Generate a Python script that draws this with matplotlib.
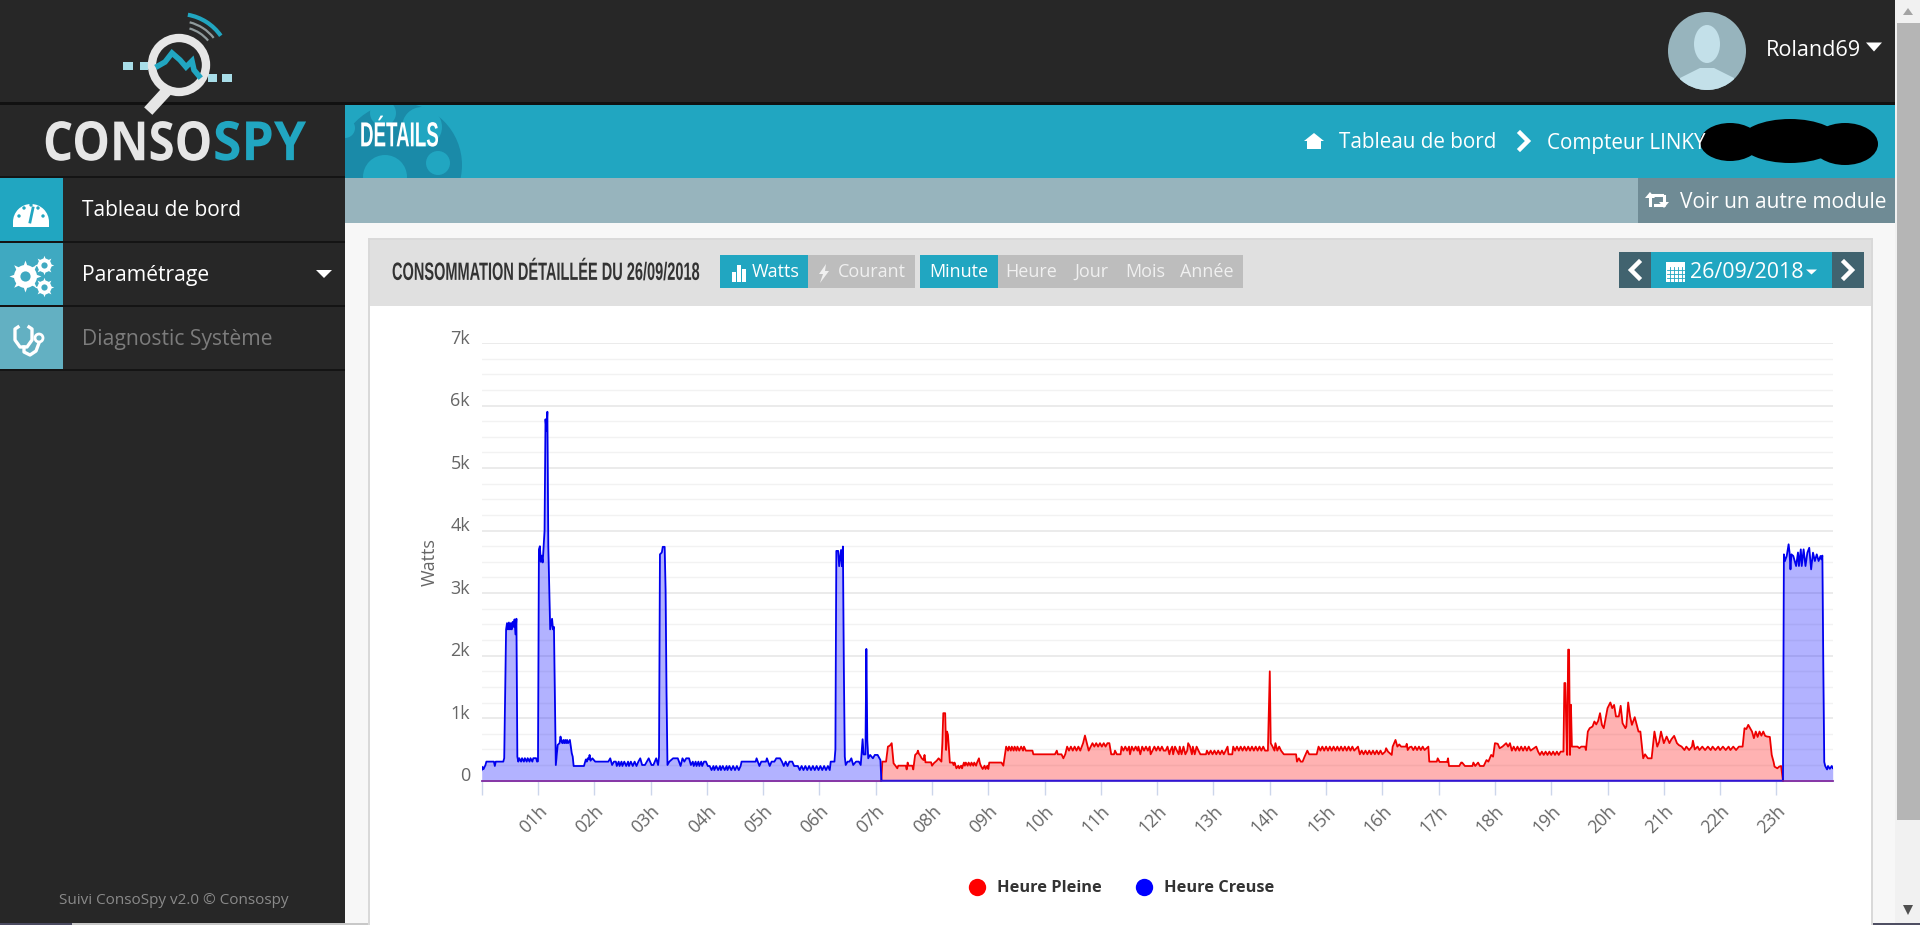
import matplotlib
matplotlib.use('Agg')
from matplotlib import pyplot as plt
from matplotlib.patches import Rectangle, Circle, Ellipse, Polygon, Wedge, Arc
from matplotlib.patheffects import AbstractPathEffect
from matplotlib.transforms import Affine2D, ScaledTranslation
from matplotlib.lines import Line2D

# Watts per minute of the day as (minute, watts)
creuse_matin = [
    (0, 170), (1, 220), (2, 185), (4, 250), (5, 305), (13, 305), (14, 235), (15, 305), (23, 305), (24, 360),
    (26, 2420), (27, 2520), (28, 2420), (29, 2530), (30, 2420), (31, 2520), (32, 2420), (33, 2540), (34, 2460),
    (35, 2580), (36, 2340), (37, 2590), (38, 385), (39, 305), (40, 360), (42, 305), (43, 360), (45, 305),
    (46, 360), (48, 305), (49, 360), (51, 305), (52, 360), (54, 305), (55, 360), (58, 360), (59, 305), (60, 310),
    (61, 3700), (62, 3750), (63, 3500), (64, 3600), (65, 3490), (66, 3750), (67, 4000), (68, 5780), (69, 5600),
    (70, 5900), (71, 3750), (73, 2420), (75, 2590), (76, 2420), (77, 2460), (79, 250), (81, 572), (83, 600),
    (84, 706), (85, 626), (86, 600), (87, 652), (88, 600), (89, 652), (90, 600), (91, 652), (92, 600), (94, 652),
    (96, 438), (97, 385), (98, 235), (109, 235), (111, 340), (112, 305), (113, 358), (114, 340), (115, 412),
    (116, 320), (118, 358), (121, 305), (135, 305), (137, 358), (139, 251), (141, 305), (143, 305), (144, 235),
    (146, 305), (147, 235), (149, 305), (150, 235), (152, 305), (154, 235), (156, 305), (157, 235), (159, 305),
    (161, 235), (163, 305), (165, 235), (167, 305), (169, 358), (171, 251), (174, 251), (176, 305), (178, 358),
    (181, 251), (183, 251), (186, 358), (188, 251), (189, 385), (190, 3620), (192, 3650), (193, 3740), (195, 3740),
    (196, 3060), (197, 1400), (198, 251), (200, 305), (204, 358), (209, 358), (212, 235), (214, 358), (216, 305),
    (218, 358), (221, 358), (223, 251), (225, 305), (226, 235), (228, 305), (229, 235), (231, 305), (232, 235),
    (234, 305), (235, 235), (237, 305), (239, 305), (241, 235), (243, 235), (245, 170), (247, 235), (248, 170),
    (250, 235), (252, 170), (254, 235), (255, 170), (257, 235), (259, 170), (261, 235), (262, 170), (264, 235),
    (266, 170), (268, 235), (270, 170), (272, 235), (274, 170), (276, 235), (277, 305), (292, 305), (293, 358),
    (296, 235), (298, 305), (303, 305), (304, 358), (307, 235), (309, 305), (312, 305), (314, 358), (318, 358),
    (320, 305), (322, 235), (324, 305), (326, 235), (328, 305), (331, 305), (333, 235), (337, 235), (339, 170),
    (341, 235), (343, 170), (345, 235), (347, 170), (349, 235), (351, 170), (353, 235), (355, 170), (357, 235),
    (359, 170), (361, 235), (363, 170), (365, 235), (367, 170), (369, 235), (371, 170), (372, 305), (376, 305),
    (377, 500), (378, 3675), (380, 3675), (381, 3430), (383, 3690), (384, 3430), (385, 3745), (386, 1800),
    (387, 385), (388, 251), (390, 305), (392, 305), (394, 358), (396, 251), (399, 305), (402, 305), (404, 251),
    (406, 663), (407, 420), (409, 420), (410, 2107), (411, 652), (412, 358), (414, 412), (417, 358), (419, 412),
    (422, 412), (425, 330), (426, 0), (1387, 0),
]
creuse_soir = [
    (1388, 3620), (1389, 3510), (1391, 3594), (1393, 3781), (1394, 3650), (1395, 3380), (1396, 3620), (1398, 3594),
    (1399, 3540), (1401, 3433), (1403, 3650), (1404, 3433), (1406, 3700), (1407, 3433), (1409, 3700), (1411, 3433),
    (1413, 3647), (1415, 3725), (1417, 3380), (1419, 3647), (1421, 3513), (1423, 3620), (1425, 3513), (1427, 3594),
    (1428, 3540), (1429, 3600), (1430, 1800), (1431, 300), (1432, 235), (1434, 180), (1435, 235), (1437, 190),
    (1439, 235), (1440, 200),
]
pleine_jour = [
    (426, 0), (427, 305), (431, 305), (433, 545), (435, 560), (437, 600), (439, 278), (441, 240), (443, 198),
    (444, 240), (452, 240), (453, 180), (454, 290), (455, 240), (459, 240), (460, 180), (462, 412), (464, 440),
    (465, 481), (466, 430), (467, 412), (469, 358), (471, 330), (472, 412), (473, 294), (479, 294), (480, 240),
    (482, 280), (485, 320), (487, 358), (490, 305), (491, 600), (492, 1080), (494, 1080), (495, 492), (496, 786),
    (497, 733), (498, 500), (499, 290), (502, 290), (503, 250), (504, 290), (506, 198), (508, 240), (509, 198),
    (511, 240), (512, 198), (514, 290), (515, 240), (516, 290), (518, 240), (519, 290), (521, 240), (522, 290),
    (524, 240), (525, 290), (527, 240), (528, 290), (530, 358), (531, 280), (532, 240), (534, 187), (536, 240),
    (537, 187), (539, 240), (540, 187), (541, 290), (554, 290), (556, 240), (559, 545), (561, 481), (562, 545),
    (564, 481), (565, 545), (567, 481), (568, 545), (570, 481), (571, 545), (573, 481), (575, 545), (577, 481),
    (578, 545), (580, 481), (587, 481), (588, 422), (611, 422), (613, 481), (614, 422), (618, 422), (620, 358),
    (622, 422), (624, 545), (626, 481), (628, 545), (630, 481), (632, 545), (634, 481), (636, 545), (638, 481),
    (641, 600), (643, 722), (645, 600), (647, 481), (649, 540), (651, 600), (653, 545), (655, 600), (657, 545),
    (659, 600), (661, 545), (663, 600), (665, 545), (667, 600), (669, 600), (671, 422), (674, 422), (675, 481),
    (677, 422), (681, 422), (682, 545), (684, 481), (686, 545), (688, 481), (690, 545), (691, 422), (693, 545),
    (695, 481), (697, 545), (699, 481), (700, 545), (702, 422), (704, 545), (706, 481), (708, 545), (710, 481),
    (712, 545), (713, 422), (715, 481), (717, 545), (719, 481), (721, 545), (723, 481), (725, 545), (727, 481),
    (729, 481), (731, 545), (733, 422), (734, 481), (736, 545), (737, 422), (739, 545), (741, 481), (743, 422),
    (744, 545), (746, 422), (748, 545), (750, 422), (752, 481), (753, 600), (755, 545), (757, 422), (758, 545),
    (760, 422), (762, 545), (764, 481), (766, 422), (772, 422), (773, 481), (775, 422), (777, 481), (779, 422),
    (781, 481), (783, 422), (785, 481), (787, 422), (789, 481), (791, 422), (793, 481), (795, 545), (796, 422),
    (800, 422), (801, 545), (803, 481), (805, 545), (807, 481), (809, 545), (811, 481), (813, 545), (815, 481),
    (817, 545), (819, 481), (821, 545), (823, 481), (825, 545), (827, 481), (829, 545), (831, 481), (833, 545),
    (835, 481), (838, 481), (839, 1100), (840, 1749), (841, 600), (843, 545), (845, 481), (846, 600), (848, 481),
    (850, 545), (852, 481), (855, 422), (868, 422), (869, 305), (871, 358), (873, 305), (875, 305), (877, 380),
    (880, 481), (882, 422), (890, 422), (892, 545), (894, 481), (896, 545), (898, 481), (900, 545), (902, 481),
    (904, 545), (906, 481), (908, 545), (910, 481), (912, 545), (914, 481), (916, 545), (918, 481), (920, 545),
    (922, 481), (924, 545), (926, 481), (928, 545), (930, 481), (934, 545), (936, 422), (938, 481), (940, 422),
    (942, 481), (944, 422), (946, 481), (948, 422), (950, 481), (952, 422), (954, 481), (956, 422), (958, 481),
    (960, 422), (963, 465), (964, 519), (966, 465), (970, 412), (971, 545), (974, 652), (976, 545), (978, 580),
    (980, 545), (985, 545), (986, 590), (987, 490), (989, 535), (991, 545), (993, 490), (995, 545), (997, 490),
    (999, 545), (1001, 490), (1003, 545), (1005, 490), (1009, 545), (1010, 305), (1018, 305), (1019, 358), (1021, 300),
    (1029, 300), (1030, 358), (1031, 235), (1042, 235), (1044, 290), (1045, 290), (1048, 235), (1056, 235), (1057, 290),
    (1059, 235), (1062, 290), (1064, 235), (1068, 235), (1071, 330), (1073, 305), (1076, 412), (1078, 385), (1080, 600),
    (1083, 590), (1085, 519), (1088, 545), (1092, 600), (1094, 545), (1096, 600), (1098, 481), (1100, 545), (1102, 481),
    (1104, 545), (1106, 481), (1108, 545), (1110, 481), (1112, 545), (1114, 481), (1116, 545), (1118, 481), (1124, 545),
    (1126, 465), (1128, 412), (1130, 465), (1132, 412), (1134, 465), (1136, 412), (1138, 465), (1140, 412), (1142, 465),
    (1144, 412), (1146, 465), (1148, 412), (1150, 465), (1153, 465), (1154, 1562), (1155, 1562), (1156, 900), (1157, 412),
    (1158, 2096), (1159, 2096), (1160, 412), (1161, 1214), (1162, 545), (1168, 545), (1170, 520), (1172, 545), (1176, 545),
    (1177, 490), (1179, 786), (1181, 840), (1184, 866), (1186, 947), (1188, 900), (1190, 957), (1192, 1080), (1194, 893),
    (1196, 840), (1198, 1000), (1200, 1160), (1203, 1251), (1205, 1160), (1207, 1212), (1209, 1027), (1212, 1027),
    (1214, 1198), (1216, 920), (1219, 840), (1220, 866), (1222, 1251), (1224, 1027), (1226, 893), (1229, 1016),
    (1231, 900), (1233, 786), (1235, 786), (1238, 358), (1240, 422), (1243, 358), (1247, 358), (1250, 786), (1253, 545),
    (1255, 620), (1257, 786), (1260, 600), (1263, 706), (1266, 600), (1268, 660), (1271, 717), (1274, 600), (1276, 570),
    (1279, 545), (1282, 490), (1284, 545), (1287, 490), (1290, 545), (1291, 640), (1293, 500), (1296, 545), (1298, 490),
    (1301, 545), (1304, 490), (1307, 545), (1310, 490), (1312, 545), (1315, 490), (1318, 545), (1320, 490), (1323, 545),
    (1326, 490), (1329, 545), (1331, 490), (1334, 545), (1337, 490), (1340, 545), (1344, 545), (1346, 840), (1348, 826),
    (1350, 893), (1352, 840), (1354, 786), (1356, 680), (1358, 786), (1360, 700), (1362, 786), (1364, 720), (1366, 786),
    (1368, 717), (1370, 706), (1373, 700), (1375, 412), (1377, 300), (1378, 225), (1381, 198), (1383, 225), (1385, 235),
    (1387, 0),
]
jour_zero = [(0, 0), (426, 0), (1387, 0), (1440, 0)]
y_ticks = [0, 1000, 2000, 3000, 4000, 5000, 6000, 7000]
y_labels = ['0', '1k', '2k', '3k', '4k', '5k', '6k', '7k']
x_ticks = list(range(1, 24))
x_labels = ['{:02d}h'.format(h) for h in x_ticks]

W, H = 1920, 925
dpi = 100
teal = '#21a6c1'
dark = '#272727'
ui_font = 'Open Sans'

fig = plt.figure(figsize=(W / dpi, H / dpi), dpi=dpi, facecolor=dark)
bg = fig.add_axes([0, 0, 1, 1])
bg.set_xlim(0, W)
bg.set_ylim(H, 0)
bg.axis('off')


class Stretch(AbstractPathEffect):
    # no condensed font installed: small font size, glyphs pulled taller around the text middle
    def __init__(self, yc, sy):
        super().__init__()
        self.yc = yc
        self.sy = sy

    def draw_path(self, renderer, gc, tpath, affine, rgbFace=None):
        stretch = Affine2D().translate(0, -self.yc).scale(1, self.sy).translate(0, self.yc)
        renderer.draw_path(gc, tpath, affine + stretch, rgbFace)


def box(x0, y0, x1, y1, color, **kw):
    p = Rectangle((x0, y0), x1 - x0, y1 - y0, fc=color, ec='none', **kw)
    bg.add_patch(p)
    return p


def label(x, y, s, size, color='white', ha='left', **kw):
    kw.setdefault('family', ui_font)
    bg.text(x, y + 2, s, fontsize=size, color=color, ha=ha, va='center', **kw)


def narrow_label(x0, x1, y, s, size, color, family='Liberation Sans'):
    t = bg.text(x0, y, s, fontsize=size, color=color, family=family, weight='bold', va='center')
    width = t.get_window_extent(fig.canvas.get_renderer()).width
    fit = (x1 - x0) / width
    t.set_fontsize(size * fit)
    t.set_path_effects([Stretch(H - y, 1 / fit)])


def caret(x0, x1, y, h, color='white'):
    bg.add_patch(Polygon([(x0, y - h / 2), (x1, y - h / 2), ((x0 + x1) / 2, y + h / 2)], fc=color, ec='none'))


def chevron(x, y, s, color='white', left=False):
    d = -1 if left else 1
    bg.plot([x - d * s / 2, x + d * s / 2, x - d * s / 2], [y - s, y, y + s], color=color, lw=3.2,
            solid_joinstyle='miter')


def gear(x, y, size, hole):
    bg.plot([x], [y], marker=(8, 1, 0), ms=size, color='white', mec='none')
    bg.plot([x], [y], marker='o', ms=size * 0.72, color='white', mec='none')
    bg.plot([x], [y], marker='o', ms=size * 0.32, color=hole, mec='none')


# top bar and sidebar
box(0, 102, W, 105, '#111111')
box(345, 105, 1895, 178, teal)
box(345, 178, 1895, 223, '#97b4bd')
box(1638, 178, 1895, 223, '#6f8b95')
box(345, 223, 1895, H, '#f7f7f7')
box(1895, 0, W, H, '#f1f1f1')
box(1897, 23, W, 820, '#b5b5b5')
bg.add_patch(Polygon([(1903, 15), (1913, 15), (1908, 8)], fc='#a3a3a3', ec='none'))
bg.add_patch(Polygon([(1903, 905), (1913, 905), (1908, 915)], fc='#505050', ec='none'))
box(0, 923, 72, H, '#4a4a60')
box(72, 923, 588, H, '#c8c8c8')
box(588, 923, W, H, '#4f4f63')

# sidebar rows
for y0, y1, c in [(178, 241, teal), (243, 305, '#3fa9c1'), (307, 369, '#63b0c2')]:
    box(0, y0, 63, y1, c)
for y in [177, 242, 306, 370]:
    box(0, y - 1, 345, y + 1, '#141414')
label(82, 209, 'Tableau de bord', 15)
label(82, 274, 'Paramétrage', 15.2)
label(82, 338, 'Diagnostic Système', 15.2, color='#7c7c7c')
caret(316, 332, 274, 8)

# gauge icon
bg.add_patch(Wedge((31, 222), 18, 180, 360, fc='white', ec='none'))
box(13, 222, 49, 227, 'white')
for px, py in [(19, 216), (24, 208), (31, 205), (38, 208), (43, 216)]:
    bg.add_patch(Circle((px, py), 1.7, fc=teal, ec='none'))
bg.plot([30, 33], [222, 208], color=teal, lw=2)
# gears icon
gear(25, 276, 23, '#3fa9c1')
gear(44, 265, 14, '#3fa9c1')
gear(44, 287, 14, '#3fa9c1')
# stethoscope icon
bg.plot([18, 15, 15, 20, 27, 32, 32, 29], [327, 329, 340, 347, 347, 340, 329, 327], color='white', lw=2.4)
bg.plot([24, 24, 30, 36, 39], [347, 352, 355, 351, 343], color='white', lw=2.4)
bg.add_patch(Circle((39, 338), 4, fc='none', ec='white', lw=2))

# logo
narrow_label(43, 212, 146, 'CONSO', 39, '#e6e6e6', family=ui_font)
narrow_label(213, 306, 146, 'SPY', 39, teal, family=ui_font)
box(123, 62, 133, 70, '#a8dde8')
box(140, 62, 148, 70, '#a8dde8')
box(208, 74, 217, 82, '#a8dde8')
box(222, 74, 232, 82, '#a8dde8')
bg.plot([152, 163], [107, 95], color='#e6e6e6', lw=8)
bg.plot([158, 165, 172, 180, 186, 192, 194, 199], [66, 62, 53, 60, 67, 61, 70, 76], color=teal, lw=4,
        solid_joinstyle='miter')
bg.add_patch(Circle((179, 65), 27, fc='none', ec='#e6e6e6', lw=6))
bg.add_patch(Arc((179, 65), 102, 102, theta1=-80, theta2=-35, color=teal, lw=3))
bg.add_patch(Arc((179, 65), 88, 88, theta1=-76, theta2=-38, color='#8f9a9c', lw=1.6))
bg.add_patch(Arc((179, 65), 76, 76, theta1=-74, theta2=-40, color='#8f9a9c', lw=1.6))

# blue header with its darker decoration
clip = Rectangle((345, 105), 1550, 73, transform=bg.transData)
for (cx, cy), r, c in [((400, 165), 62, '#1a8aa8'), ((383, 113), 13, teal), ((422, 127), 20, teal),
                       ((438, 163), 12, teal), ((385, 177), 22, teal), ((345, 128), 10, teal)]:
    circ = Circle((cx, cy), r, fc=c, ec='none')
    bg.add_patch(circ)
    circ.set_clip_path(clip)
narrow_label(360, 439, 138, 'DÉTAILS', 25, 'white')

# breadcrumb
bg.add_patch(Polygon([(1304, 141), (1314, 133), (1324, 141), (1321, 141), (1321, 149), (1307, 149), (1307, 141)],
                     fc='white', ec='none'))
label(1339, 141, 'Tableau de bord', 14.9)
chevron(1524, 141, 8)
label(1547, 141, 'Compteur LINKY', 14.9)
for cx, cy, w, h in [(1730, 142, 60, 38), (1790, 141, 100, 44), (1845, 144, 66, 42)]:
    bg.add_patch(Ellipse((cx, cy), w, h, fc='black', ec='none'))
bg.plot([1650, 1650, 1662], [205, 195, 195], color='white', lw=2.2)
bg.add_patch(Polygon([(1645, 198), (1655, 198), (1650, 192)], fc='white', ec='none'))
bg.plot([1655, 1664, 1664], [205, 205, 196], color='white', lw=2.2)
bg.add_patch(Polygon([(1659, 202), (1669, 202), (1664, 208)], fc='white', ec='none'))
label(1680, 200, 'Voir un autre module', 15)

# avatar
bg.add_patch(Circle((1707, 51), 39, fc='#97b4bd', ec='none'))
avatar_clip = Circle((1707, 51), 39, transform=bg.transData)
head = Ellipse((1707, 44), 26, 38, fc='#c3e0e9', ec='none')
body = Polygon([(1680, 90), (1680, 78), (1700, 68), (1714, 68), (1734, 78), (1734, 90)], fc='#c3e0e9', ec='none')
for p in (head, body):
    bg.add_patch(p)
    p.set_clip_path(avatar_clip)
label(1766, 48, 'Roland69', 15.6)
caret(1866, 1882, 47, 9)

# panel
box(368, 238, 1873, H, '#d9d9d9')
box(370, 240, 1871, 306, '#e0e0e0')
box(370, 306, 1871, H, 'white')
narrow_label(392, 699, 273, 'CONSOMMATION DÉTAILLÉE DU 26/09/2018', 18, '#333333')
box(720, 255, 808, 288, teal)
box(808, 255, 915, 288, '#bdbdbd')
box(920, 255, 998, 288, teal)
box(998, 255, 1243, 288, '#bdbdbd')
box(732, 272, 736, 282, 'white')
box(737, 265, 741, 282, 'white')
box(742, 269, 746, 282, 'white')
label(752, 270, 'Watts', 13)
bg.add_patch(Polygon([(826, 264), (819, 274), (823, 274), (820, 283), (829, 271), (825, 271)], fc='#f0f0f0', ec='none'))
label(838, 270, 'Courant', 13, color='#f0f0f0')
label(929, 270, 'Minute', 13)
label(1005, 270, 'Heure', 13, color='#f0f0f0')
label(1074, 270, 'Jour', 13, color='#f0f0f0')
label(1125, 270, 'Mois', 13, color='#f0f0f0')
label(1180, 270, 'Année', 13, color='#f0f0f0')

box(1619, 252, 1651, 288, '#41636f')
box(1651, 252, 1832, 288, teal)
box(1832, 252, 1864, 288, '#41636f')
chevron(1635, 270, 8, left=True)
chevron(1848, 270, 8)
box(1666, 262, 1685, 282, 'white')
for x in (1670, 1674, 1678, 1682):
    bg.plot([x, x], [267, 281], color=teal, lw=0.6)
for y in (270, 274, 278):
    bg.plot([1667, 1684], [y, y], color=teal, lw=0.6)
label(1690, 271, '26/09/2018', 15.4)
caret(1806, 1817, 272, 5)

label(59, 898, 'Suivi ConsoSpy v2.0 © Consospy', 10.95, color='#8a8a8a')

# the chart itself
left, right, top, bottom = 481.7, 1832.7, 343, 780.7
ax = fig.add_axes([left / W, 1 - bottom / H, (right - left) / W, (bottom - top) / H])
ax.patch.set_alpha(0)

minute_c = [m for m, w in creuse_matin + creuse_soir]
watts_c = [w for m, w in creuse_matin + creuse_soir]
minute_p = [m for m, w in pleine_jour]
watts_p = [w for m, w in pleine_jour]
hours_c = [m / 60 for m in minute_c]
hours_p = [m / 60 for m in minute_p]
zero_x = [m / 60 for m, w in jour_zero]
zero_y = [w for m, w in jour_zero]

ax.fill_between(hours_p, watts_p, 0, color='#ff0000', alpha=0.3, lw=0, zorder=2)
ax.fill_between(hours_c, watts_c, 0, color='#0000ff', alpha=0.3, lw=0, zorder=2)
ax.plot(hours_p, watts_p, color='#ee0000', lw=1.3, zorder=3, solid_joinstyle='round')
ax.plot(hours_c, watts_c, color='#0000ee', lw=1.3, zorder=4, solid_joinstyle='round')
ax.plot(zero_x[:2], zero_y[:2], color='#7a1a9a', lw=1.2, zorder=5, clip_on=False)
ax.plot(zero_x[1:3], zero_y[1:3], color='#3a1ad0', lw=1.2, zorder=5, clip_on=False)
ax.plot(zero_x[2:], zero_y[2:], color='#7a1a9a', lw=1.2, zorder=5, clip_on=False)

ax.set_xlim(0, 24)
ax.set_ylim(0, 7000)
for s in ['top', 'left', 'right']:
    ax.spines[s].set_visible(False)
ax.spines['bottom'].set_color('#ccd6eb')
ax.spines['bottom'].set_linewidth(1.5)
ax.set_xticks([0] + x_ticks)
ax.set_xticklabels([''] + x_labels, rotation=45, ha='right', rotation_mode='anchor', fontsize=12.8, color='#666666',
                   family=ui_font)
ax.tick_params(axis='x', length=10, width=1, color='#ccd6eb', pad=5)
ax.set_yticks(y_ticks)
ax.set_yticklabels(y_labels, fontsize=13, color='#666666', family=ui_font)
ax.set_yticks([v + d for v in y_ticks[:-1] for d in (250, 500, 750)], minor=True)
ax.tick_params(axis='y', which='both', length=0, pad=8.4)
offset = ScaledTranslation(0, 6.5 / dpi, fig.dpi_scale_trans)
for t in ax.get_yticklabels():
    t.set_transform(t.get_transform() + offset)
ax.grid(axis='y', which='major', color='#e6e6e6', lw=1.1, zorder=0)
ax.grid(axis='y', which='minor', color='#f2f2f2', lw=1, zorder=0)
ax.set_axisbelow(True)
ax.set_ylabel('Watts', fontsize=13, color='#666666', family=ui_font)
ax.yaxis.set_label_coords((439 - left) / (right - left), 0.5)

handles = [Line2D([], [], ls='none', marker='o', ms=12.5, color='#ff0000', mec='none'),
           Line2D([], [], ls='none', marker='o', ms=12.5, color='#0000ff', mec='none')]
ax.legend(handles, ['Heure Pleine', 'Heure Creuse'], ncols=2, frameon=False, loc='center',
          bbox_to_anchor=((1120 - left) / (right - left), (bottom - 888.5) / (bottom - top)),
          prop={'family': ui_font, 'weight': 'bold', 'size': 11.8}, labelcolor='#333333',
          handletextpad=0.5, columnspacing=1.9, handlelength=1.4)

fig.savefig('out.png', dpi=dpi, facecolor=fig.get_facecolor())
